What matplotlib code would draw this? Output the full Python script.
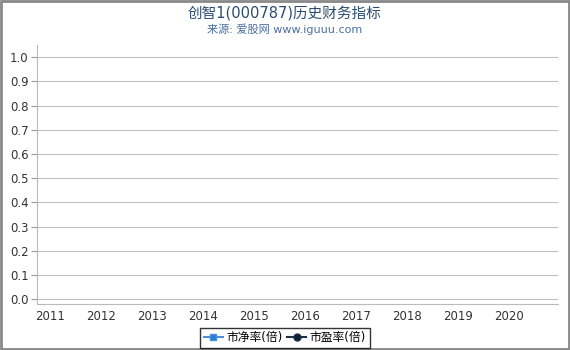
import matplotlib.pyplot as plt
import numpy as np

plt.rcParams['font.family'] = ['DejaVu Sans', 'Noto Sans CJK SC']

years = [2011, 2012, 2013, 2014, 2015, 2016, 2017, 2018, 2019, 2020]
pb_years = []
pb = []   # 市净率(倍) - no data
pe_years = []
pe = []   # 市盈率(倍) - no data
yticks = [0.0, 0.1, 0.2, 0.3, 0.4, 0.5, 0.6, 0.7, 0.8, 0.9, 1.0]

fig = plt.figure(figsize=(5.7, 3.5), dpi=100)
ax = fig.add_axes([0.065, 0.131, 0.914, 0.740])

ax.plot(pb_years, pb, '-s', color='#4a90d9', markerfacecolor='#2a7ad6',
        markersize=5, lw=1.5, label='市净率(倍)')
ax.plot(pe_years, pe, '-o', color='#1c2f4a', markerfacecolor='#0d1f35',
        markersize=5, lw=1.5, label='市盈率(倍)')

ax.set_xlim(2010.745, 2020.96)
ax.set_ylim(-0.02, 1.05)
ax.set_xticks(years)
ax.set_xticklabels([str(y) for y in years])
ax.set_yticks(yticks)
ax.set_yticklabels(['%.1f' % v for v in yticks])
ax.tick_params(axis='both', labelsize=8.5, colors='#333333')
ax.tick_params(axis='y', length=4, color='#999999', pad=2)
ax.tick_params(axis='x', length=0, pad=4)

ax.grid(axis='y', color='#c0c0c0', lw=0.8)
ax.set_axisbelow(True)
for s in ['top', 'right']:
    ax.spines[s].set_visible(False)
ax.spines['left'].set_color('#bbbbbb')
ax.spines['bottom'].set_color('#bbbbbb')

fig.text(0.5, 0.964, '创智1(000787)历史财务指标', ha='center', va='center',
         fontsize=10.5, color='#2b4a6f')
fig.text(0.5, 0.916, '来源: 爱股网 www.iguuu.com', ha='center', va='center',
         fontsize=8, color='#4a6fa0')

leg = fig.legend(loc='center', bbox_to_anchor=(0.5, 0.035), ncol=2,
                 fontsize=8.5, frameon=True, fancybox=False, edgecolor='black',
                 handlelength=1.6, handletextpad=0.3, columnspacing=0.4,
                 borderpad=0.3)
leg.get_frame().set_linewidth(1.0)

fig.patches.append(plt.Rectangle((0.002, 0.003), 0.996, 0.994, transform=fig.transFigure,
                                 fill=False, edgecolor='#888888', lw=2))

plt.savefig('out.png')
